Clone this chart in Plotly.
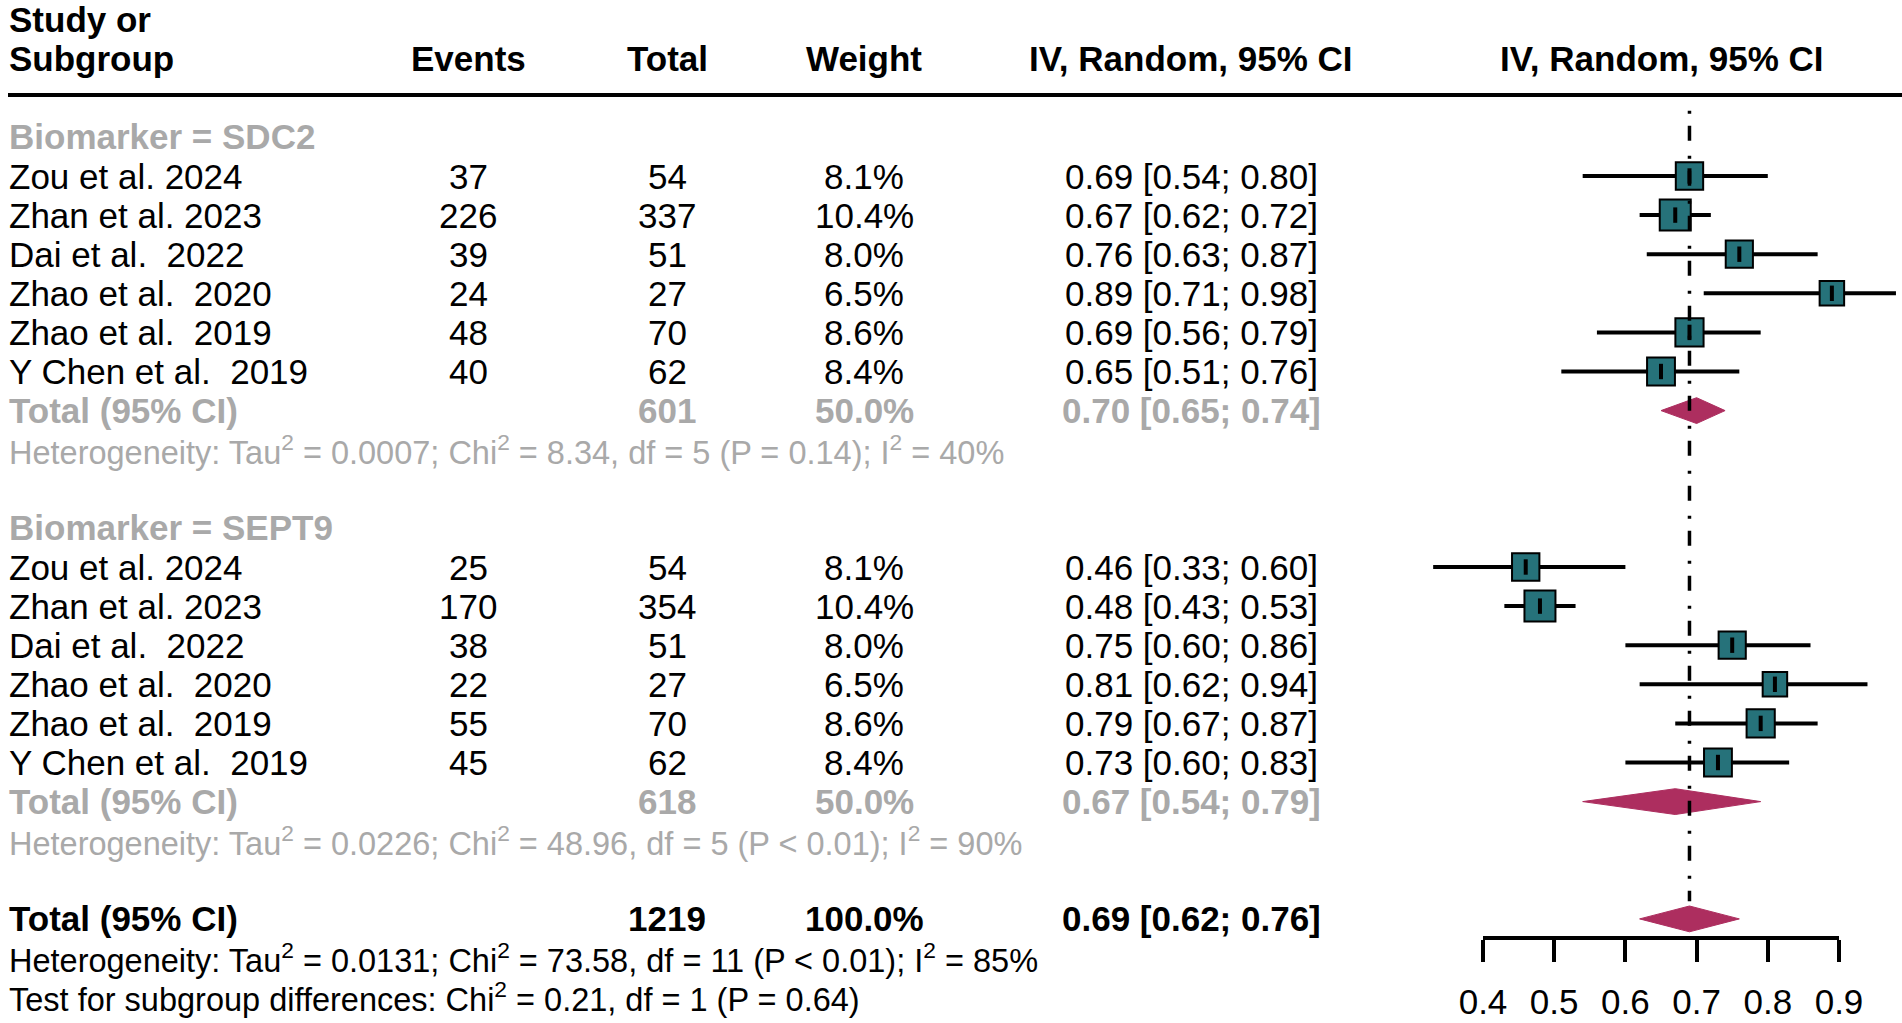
import numpy as np
import plotly.graph_objects as go

# ---- data ----
studies = ["Zou et al. 2024", "Zhan et al. 2023", "Dai et al.  2022",
           "Zhao et al.  2020", "Zhao et al.  2019", "Y Chen et al.  2019"]

sdc2_events = [37, 226, 39, 24, 48, 40]
sdc2_total = [54, 337, 51, 27, 70, 62]
sdc2_weight = [8.1, 10.4, 8.0, 6.5, 8.6, 8.4]
sdc2_est = [0.69, 0.67, 0.76, 0.89, 0.69, 0.65]
sdc2_lo = [0.54, 0.62, 0.63, 0.71, 0.56, 0.51]
sdc2_hi = [0.80, 0.72, 0.87, 0.98, 0.79, 0.76]
sdc2_pooled = [0.70, 0.65, 0.74]  # est, lo, hi
sdc2_n = 601
sdc2_w = 50.0
sdc2_het = "Heterogeneity: Tau<sup>2</sup> = 0.0007; Chi<sup>2</sup> = 8.34, df = 5 (P = 0.14); I<sup>2</sup> = 40%"

sept9_events = [25, 170, 38, 22, 55, 45]
sept9_total = [54, 354, 51, 27, 70, 62]
sept9_weight = [8.1, 10.4, 8.0, 6.5, 8.6, 8.4]
sept9_est = [0.46, 0.48, 0.75, 0.81, 0.79, 0.73]
sept9_lo = [0.33, 0.43, 0.60, 0.62, 0.67, 0.60]
sept9_hi = [0.60, 0.53, 0.86, 0.94, 0.87, 0.83]
sept9_pooled = [0.67, 0.54, 0.79]
sept9_n = 618
sept9_w = 50.0
sept9_het = "Heterogeneity: Tau<sup>2</sup> = 0.0226; Chi<sup>2</sup> = 48.96, df = 5 (P < 0.01); I<sup>2</sup> = 90%"

overall_pooled = [0.69, 0.62, 0.76]
overall_n = 1219
overall_w = 100.0
overall_het = "Heterogeneity: Tau<sup>2</sup> = 0.0131; Chi<sup>2</sup> = 73.58, df = 11 (P < 0.01); I<sup>2</sup> = 85%"
subgroup_test = "Test for subgroup differences: Chi<sup>2</sup> = 0.21, df = 1 (P = 0.64)"

tick_vals = [0.4, 0.5, 0.6, 0.7, 0.8, 0.9]

groups = [
    ("Biomarker = SDC2", sdc2_events, sdc2_total, sdc2_weight, sdc2_est, sdc2_lo, sdc2_hi,
     sdc2_pooled, sdc2_n, sdc2_w, sdc2_het),
    ("Biomarker = SEPT9", sept9_events, sept9_total, sept9_weight, sept9_est, sept9_lo, sept9_hi,
     sept9_pooled, sept9_n, sept9_w, sept9_het),
]

# ---- look ----
W, H = 1902, 1023
FONT = "Liberation Sans, Arial, Helvetica, sans-serif"
FS = 35
FS_SMALL = 32.5
GREY = "#a9a9a9"
BOX = "#26727a"
DIAMOND = "#ad2e5f"

# pixel geometry: forest x scale and row spacing
px0, px_per = 1483, 712.0          # px of 0.4, px per unit
row0, row_h = 97.8, 39.1           # px of row 0, px per row
xr = [0.4 - px0 / px_per, 0.4 + (W - px0) / px_per]
yr = [(H - row0) / row_h, -row0 / row_h]

COL_STUDY, COL_EV, COL_TOT, COL_W, COL_CI, COL_FOREST = 8, 468, 667, 864, 1191, 1662

fig = go.Figure()
ann = []


def txt(x, r, s, color="black", bold=False, anchor="center", size=FS):
    if bold:
        s = "<b>" + s + "</b>"
    ann.append(dict(x=x / W, y=r, xref="paper", yref="y", text=s, showarrow=False,
                    xanchor=anchor, yanchor="middle", borderpad=0,
                    font=dict(family=FONT, size=size, color=color)))


def ci_text(v):
    return "%.2f [%.2f; %.2f]" % (v[0], v[1], v[2])


def diamond(r, v):
    est, lo, hi = v
    h = 0.33
    fig.add_trace(go.Scatter(x=[lo, est, hi, est, lo], y=[r, r - h, r, r + h, r],
                             mode="lines", fill="toself", fillcolor=DIAMOND,
                             line=dict(color=DIAMOND, width=1), hoverinfo="skip"))


# header
txt(COL_STUDY, -2, "Study or", bold=True, anchor="left")
txt(COL_STUDY, -1, "Subgroup", bold=True, anchor="left")
txt(COL_EV, -1, "Events", bold=True)
txt(COL_TOT, -1, "Total", bold=True)
txt(COL_W, -1, "Weight", bold=True)
txt(COL_CI, -1, "IV, Random, 95% CI", bold=True)
txt(COL_FOREST, -1, "IV, Random, 95% CI", bold=True)

r = 1
for (label, ev, tot, wt, est, lo, hi, pooled, n, w, het) in groups:
    txt(COL_STUDY, r, label, color=GREY, bold=True, anchor="left")
    r += 1
    rows = list(range(r, r + len(studies)))
    for i, name in enumerate(studies):
        txt(COL_STUDY, rows[i], name, anchor="left")
        txt(COL_EV, rows[i], str(ev[i]))
        txt(COL_TOT, rows[i], str(tot[i]))
        txt(COL_W, rows[i], "%.1f%%" % wt[i])
        txt(COL_CI, rows[i], ci_text([est[i], lo[i], hi[i]]))
    # CI whiskers
    xs, ys = [], []
    for i in range(len(studies)):
        xs += [lo[i], hi[i], None]
        ys += [rows[i], rows[i], None]
    fig.add_trace(go.Scatter(x=xs, y=ys, mode="lines", line=dict(color="black", width=4),
                             hoverinfo="skip"))
    sizes = [31 * np.sqrt(v / 10.4) for v in wt]
    fig.add_trace(go.Scatter(x=est, y=rows, mode="markers",
                             marker=dict(symbol="square", size=sizes, color=BOX, opacity=1,
                                         line=dict(color="black", width=2)),
                             hoverinfo="skip"))
    fig.add_trace(go.Scatter(x=est, y=rows, mode="markers",
                             marker=dict(symbol="line-ns", size=11,
                                         line=dict(color="black", width=4)),
                             hoverinfo="skip"))
    r += len(studies)
    txt(COL_STUDY, r, "Total (95% CI)", color=GREY, bold=True, anchor="left")
    txt(COL_TOT, r, str(n), color=GREY, bold=True)
    txt(COL_W, r, "%.1f%%" % w, color=GREY, bold=True)
    txt(COL_CI, r, ci_text(pooled), color=GREY, bold=True)
    diamond(r, pooled)
    r += 1
    txt(COL_STUDY, r, het, color=GREY, anchor="left", size=FS_SMALL)
    r += 2

# overall
txt(COL_STUDY, r, "Total (95% CI)", bold=True, anchor="left")
txt(COL_TOT, r, str(overall_n), bold=True)
txt(COL_W, r, "%.1f%%" % overall_w, bold=True)
txt(COL_CI, r, ci_text(overall_pooled), bold=True)
diamond(r, overall_pooled)
txt(COL_STUDY, r + 1, overall_het, anchor="left", size=FS_SMALL)
txt(COL_STUDY, r + 2, subgroup_test, anchor="left", size=FS_SMALL)

# reference line at the overall estimate
fig.add_trace(go.Scatter(x=[overall_pooled[0]] * 2, y=[0.33, r - 0.45], mode="lines",
                         line=dict(color="black", width=3.5, dash="3px,12px,15px,15px"),
                         hoverinfo="skip"))

# invisible trace so the tick axis is drawn
fig.add_trace(go.Scatter(x=[tick_vals[0], tick_vals[-1]], y=[-10, -10], xaxis="x2",
                         mode="lines", line=dict(width=0), hoverinfo="skip"))

# header rule
fig.add_shape(type="line", xref="paper", yref="y", x0=8 / W, x1=1, y0=-0.07, y1=-0.07,
              line=dict(color="black", width=4))

fig.update_layout(
    width=W, height=H, margin=dict(l=0, r=0, t=0, b=0, autoexpand=False),
    paper_bgcolor="white", plot_bgcolor="rgba(0,0,0,0)", showlegend=False,
    annotations=ann,
    xaxis=dict(range=xr, domain=[0, 1], visible=False, fixedrange=True),
    yaxis=dict(range=yr, domain=[0, 1], visible=False, fixedrange=True),
    xaxis2=dict(range=[tick_vals[0], tick_vals[-1]],
                domain=[px0 / W, (px0 + 0.5 * px_per) / W],
                anchor="free", position=1 - 938 / H,
                showline=True, linecolor="black", linewidth=4,
                ticks="outside", ticklen=22, tickwidth=4, tickcolor="black",
                tickvals=tick_vals, ticktext=["%.1f" % t for t in tick_vals],
                ticklabelstandoff=10, showgrid=False, zeroline=False,
                tickfont=dict(family=FONT, size=FS, color="black")),
)

fig.write_html("out.html", config={"displayModeBar": False},
               post_script="document.body.style.margin='0px';document.body.style.overflow='hidden';")
